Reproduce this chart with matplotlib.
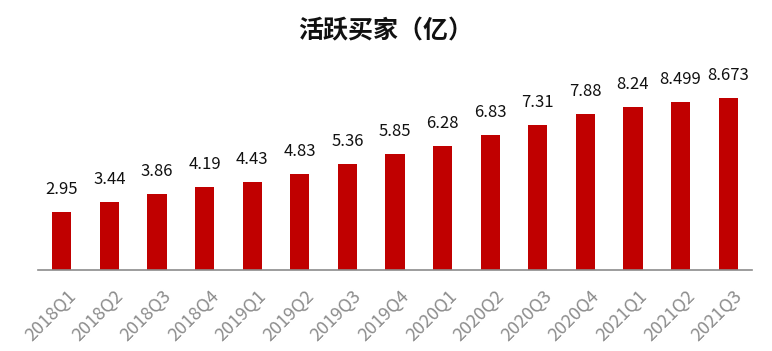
import matplotlib
matplotlib.use('Agg')
import matplotlib.pyplot as plt
import matplotlib.transforms as mtransforms

plt.rcParams['font.family'] = ['Noto Sans CJK SC', 'DejaVu Sans']

# ===== 数据 =====
quarters = ['2018Q1', '2018Q2', '2018Q3', '2018Q4',
            '2019Q1', '2019Q2', '2019Q3', '2019Q4',
            '2020Q1', '2020Q2', '2020Q3', '2020Q4',
            '2021Q1', '2021Q2', '2021Q3']
buyers = [2.95, 3.44, 3.86, 4.19, 4.43, 4.83, 5.36, 5.85,
          6.28, 6.83, 7.31, 7.88, 8.24, 8.499, 8.673]
labels = ['2.95', '3.44', '3.86', '4.19', '4.43', '4.83', '5.36', '5.85',
          '6.28', '6.83', '7.31', '7.88', '8.24', '8.499', '8.673']

# ===== 绘图 =====
fig = plt.figure(figsize=(7.72, 3.51), dpi=100)
ax = fig.add_axes([38 / 772, 81 / 351, 714 / 772, 198 / 351])

x = list(range(len(quarters)))
ax.bar(x, buyers, width=0.4, color='#C00000', zorder=2)

for xi, v, lab in zip(x, buyers, labels):
    ax.annotate(lab, xy=(xi, v), xytext=(0, 10), textcoords='offset points',
                ha='center', va='bottom', fontsize=12, color='#111111')

ax.set_xlim(-0.5, len(quarters) - 0.5)
ax.set_ylim(0, 10)
ax.set_yticks([])
for s in ['top', 'right', 'left']:
    ax.spines[s].set_visible(False)
ax.spines['bottom'].set_color('#8C8C8C')
ax.spines['bottom'].set_linewidth(1.2)

ax.set_xticks(x)
ax.set_xticklabels(quarters, rotation=45, ha='right', va='top',
                   rotation_mode='anchor', fontsize=13, color='#8C8C8C')
ax.tick_params(axis='x', length=0, pad=12)
offset = mtransforms.ScaledTranslation(5 / 100, 0, fig.dpi_scale_trans)
for t in ax.get_xticklabels():
    t.set_transform(t.get_transform() + offset)

fig.text(0.5, 1 - 31 / 351, '活跃买家（亿）', ha='center', va='center',
         fontsize=18, fontweight='bold', color='#111111')

fig.savefig('out.png', dpi=100, facecolor='white')
plt.close(fig)
